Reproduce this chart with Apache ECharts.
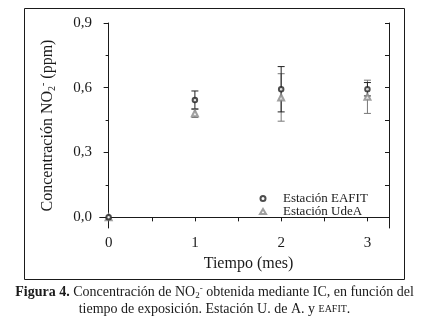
<!DOCTYPE html>
<html>
<head>
<meta charset="utf-8">
<script src="https://cdn.jsdelivr.net/npm/echarts@6/dist/echarts.min.js"></script>
<style>
  html, body { margin: 0; padding: 0; background: #fff; }
  #chart { width: 429px; height: 323px; }
</style>
</head>
<body>
<div id="chart"></div>
<script>
// datos
const months = [0, 1, 2, 3];
const eafit = [0.0, 0.543, 0.593, 0.593];
const eafitErr = [0, 0.042, 0.105, 0.031];
const udea = [0.0, 0.482, 0.555, 0.558];
const udeaErr = [0, 0.02, 0.11, 0.077];

const xTicks = [0, 0.5, 1, 1.5, 2, 2.5, 3];
const xLabels = [0, 1, 2, 3];
const yMajor = [0, 0.3, 0.6, 0.9];
const yMinor = [0.15, 0.45, 0.75];

const FONT = "Liberation Serif";
const INK = "#1a1a1a";

const chart = echarts.init(document.getElementById("chart"), null, { renderer: "canvas" });

// barras de error: línea vertical con tapas
function errorBars(name, vals, errs, color) {
  return {
    name: name + "-err",
    type: "custom",
    xAxisIndex: 0,
    yAxisIndex: 0,
    silent: true,
    z: 1,
    data: months.map((m, i) => [m, vals[i], errs[i]]),
    renderItem: (params, api) => {
      const x = api.value(0), y = api.value(1), e = api.value(2);
      if (!e) return null;
      const top = api.coord([x, y + e]);
      const bot = api.coord([x, y - e]);
      const w = 3.5;
      const st = { stroke: color, lineWidth: 1 };
      return {
        type: "group",
        children: [
          { type: "line", shape: { x1: top[0], y1: top[1], x2: bot[0], y2: bot[1] }, style: st },
          { type: "line", shape: { x1: top[0] - w, y1: top[1], x2: top[0] + w, y2: top[1] }, style: st },
          { type: "line", shape: { x1: bot[0] - w, y1: bot[1], x2: bot[0] + w, y2: bot[1] }, style: st },
        ],
      };
    },
  };
}

const axisLine = { show: true, lineStyle: { color: INK, width: 1 } };
const labelStyle = { color: INK, fontFamily: FONT, fontSize: 15 };

const option = {
  animation: false,
  grid: { left: 100, top: 23, width: 289, height: 205 },
  xAxis: [
    {
      type: "value",
      position: "bottom",
      min: -0.1,
      max: 3.25,
      axisLine: axisLine,
      splitLine: { show: false },
      axisTick: { show: true, length: 4, customValues: xTicks, lineStyle: { color: INK } },
      axisLabel: Object.assign({ customValues: xLabels, margin: 8 }, labelStyle),
      name: "Tiempo (mes)",
      nameLocation: "middle",
      nameGap: 26,
      nameTextStyle: { color: INK, fontFamily: FONT, fontSize: 16, padding: [0, 0, 0, 8] },
    },
    {
      type: "value",
      position: "top",
      min: -0.1,
      max: 3.25,
      axisLine: axisLine,
      splitLine: { show: false },
      axisTick: { show: true, inside: true, length: 4, customValues: xTicks, lineStyle: { color: INK } },
      axisLabel: { show: false },
    },
  ],
  yAxis: [
    {
      type: "value",
      position: "left",
      min: -0.05,
      max: 0.9,
      axisLine: axisLine,
      splitLine: { show: false },
      axisTick: { show: true, length: 5, customValues: yMajor, lineStyle: { color: INK } },
      axisLabel: Object.assign({
        customValues: yMajor,
        margin: 8,
        formatter: (v) => v.toFixed(1).replace(".", ","),
      }, labelStyle),
      name: "Concentración NO{sub|2}{sup|-} (ppm)",
      nameLocation: "middle",
      nameGap: 43,
      nameTextStyle: {
        color: INK, fontFamily: FONT, fontSize: 16,
        rich: {
          sub: { fontFamily: FONT, fontSize: 10, color: INK, padding: [9, 0, 0, 0] },
          sup: { fontFamily: FONT, fontSize: 10, color: INK, padding: [0, 0, 9, 0] },
        },
      },
    },
    {
      type: "value",
      position: "left",
      min: -0.05,
      max: 0.9,
      axisLine: { show: false },
      splitLine: { show: false },
      axisTick: { show: true, length: 3, customValues: yMinor, lineStyle: { color: INK } },
      axisLabel: { show: false },
    },
    {
      type: "value",
      position: "right",
      min: -0.05,
      max: 0.9,
      axisLine: axisLine,
      splitLine: { show: false },
      axisTick: { show: true, inside: true, length: 4, customValues: yMajor.concat(yMinor), lineStyle: { color: INK } },
      axisLabel: { show: false },
    },
  ],
  legend: {
    orient: "vertical",
    left: 254,
    top: 187,
    itemWidth: 6,
    itemHeight: 5,
    itemGap: 0,
    data: ["Estación EAFIT", "Estación UdeA"],
    textStyle: { color: INK, fontFamily: FONT, fontSize: 13, padding: [0, 0, 0, 12] },
  },
  series: [
    errorBars("Estación UdeA", udea, udeaErr, "#777"),
    errorBars("Estación EAFIT", eafit, eafitErr, "#222"),
    {
      name: "Estación UdeA",
      type: "scatter",
      xAxisIndex: 0,
      yAxisIndex: 0,
      symbol: "emptyTriangle",
      symbolSize: 6,
      itemStyle: { color: "#888", borderColor: "#888", borderWidth: 1 },
      z: 3,
      data: months.map((m, i) => [m, udea[i]]),
    },
    {
      name: "Estación EAFIT",
      type: "scatter",
      xAxisIndex: 0,
      yAxisIndex: 0,
      symbol: "emptyCircle",
      symbolSize: 4.5,
      itemStyle: { color: "#222", borderColor: "#222", borderWidth: 1 },
      z: 4,
      data: months.map((m, i) => [m, eafit[i]]),
    },
  ],
  graphic: [
    {
      type: "rect",
      shape: { x: 24.5, y: 8.5, width: 380, height: 271 },
      style: { fill: "none", stroke: INK, lineWidth: 1 },
      silent: true,
    },
    {
      type: "text",
      left: "center",
      top: 284,
      style: {
        text: "{b|Figura 4.} Concentración de NO{sub|2}{sup|-} obtenida mediante IC, en función del",
        fill: INK,
        font: "14px '" + FONT + "'",
        rich: {
          b: { fontFamily: FONT, fontSize: 14, fontWeight: "bold", fill: INK },
          sub: { fontFamily: FONT, fontSize: 9, padding: [7, 0, 0, 0] },
          sup: { fontFamily: FONT, fontSize: 9, padding: [0, 0, 7, 0] },
        },
      },
    },
    {
      type: "text",
      left: "center",
      top: 302,
      style: {
        text: "tiempo de exposición. Estación U. de A. y {sc|EAFIT}.",
        fill: INK,
        font: "14px '" + FONT + "'",
        rich: { sc: { fontFamily: FONT, fontSize: 10 } },
      },
    },
  ],
};

chart.setOption(option);
</script>
</body>
</html>
